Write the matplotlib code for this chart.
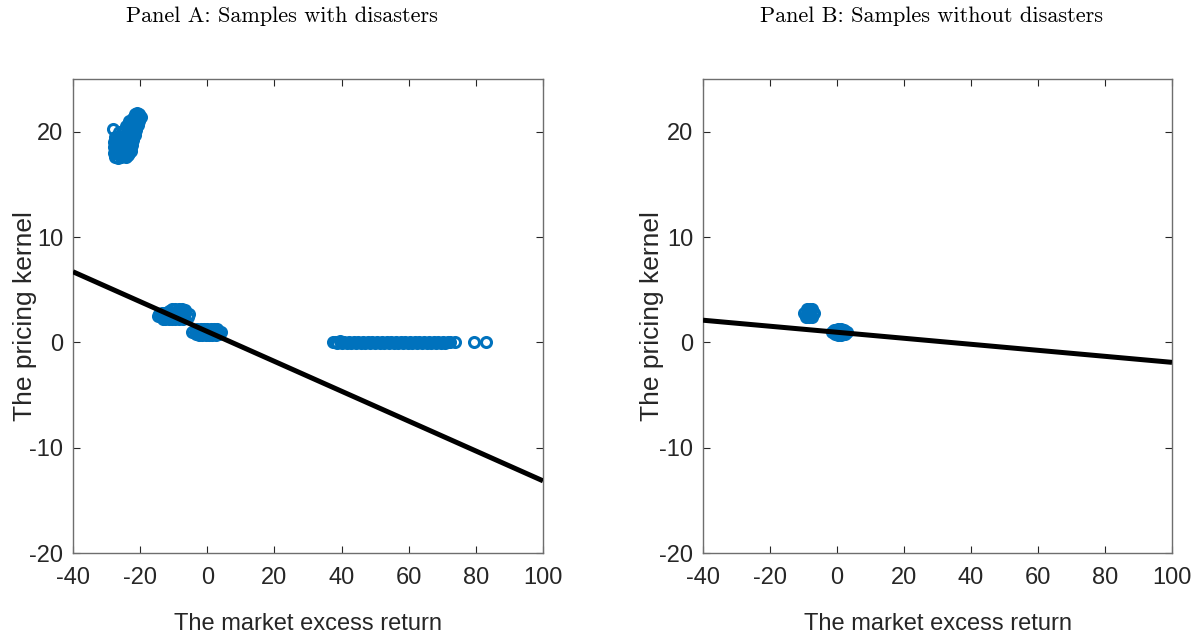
import matplotlib
matplotlib.use("Agg")
import matplotlib.pyplot as plt

# Panel A scatter clouds (market excess return, pricing kernel)
a_crash_x = [-27.4, -26.6, -25.8, -25.0, -24.2, -23.5,
             -27.8, -27.1, -26.3, -25.5, -24.7, -23.9, -23.2, -22.8,
             -27.9, -27.2, -26.4, -25.6, -24.8, -24.0, -23.3, -22.6, -22.3,
             -27.8, -27.0, -26.2, -25.4, -24.6, -23.8, -23.1, -22.4, -22.0,
             -27.4, -26.6, -25.8, -25.0, -24.2, -23.5, -22.8, -22.0, -21.6,
             -28.0, -26.3, -25.5, -24.7, -23.9, -23.2, -22.5, -21.7, -21.2,
             -24.3, -23.6, -22.9, -22.1, -21.3, -20.7,
             -23.3, -22.6, -21.9, -21.1, -20.2,
             -22.2, -21.5, -20.8, -19.8,
             -21.4, -20.9, -20.3]
a_crash_y = [17.6, 17.5, 17.6, 17.7, 17.6, 17.8,
             18.0, 18.0, 17.9, 18.0, 18.0, 18.1, 18.0, 18.2,
             18.5, 18.5, 18.5, 18.4, 18.5, 18.5, 18.6, 18.5, 18.7,
             19.0, 19.0, 19.0, 19.0, 19.0, 19.0, 19.0, 19.1, 19.2,
             19.5, 19.5, 19.5, 19.5, 19.5, 19.5, 19.5, 19.6, 19.7,
             20.3, 20.0, 20.0, 20.0, 20.0, 20.0, 20.0, 20.1, 20.2,
             20.5, 20.5, 20.5, 20.5, 20.5, 20.6,
             21.0, 21.0, 21.0, 21.0, 21.0,
             21.3, 21.4, 21.4, 21.4,
             21.7, 21.8, 21.7]

a_mid_x = [-11.3, -10.4, -9.5, -8.5, -7.6, -6.7,
           -14.3, -13.4, -12.5, -11.5, -10.5, -9.5, -8.5, -7.5, -6.5, -5.5,
           -14.7, -13.9, -13.0, -12.0, -11.0, -10.0, -9.0, -8.0, -7.0, -5.8,
           -13.3, -12.5, -11.5, -10.5, -9.5, -8.5, -7.2]
a_mid_y = [3.0, 3.2, 3.2, 3.2, 3.2, 3.1,
           2.7, 2.8, 2.8, 2.8, 2.8, 2.8, 2.8, 2.8, 2.8, 2.7,
           2.5, 2.5, 2.5, 2.5, 2.5, 2.5, 2.5, 2.5, 2.5, 2.4,
           2.2, 2.2, 2.2, 2.2, 2.2, 2.2, 2.2]

a_zero_x = [-3.0, -2.0, -1.0, 0.0, 1.0, 2.0, 3.0,
            -4.6, -3.8, -2.8, -1.8, -0.8, 0.2, 1.2, 2.2, 3.2, 4.1,
            -3.5, -2.5, -1.5, -0.5, 0.5, 1.5, 2.5, 3.4]
a_zero_y = [1.3, 1.3, 1.3, 1.3, 1.3, 1.3, 1.25,
            1.0, 1.0, 1.0, 1.0, 1.0, 1.0, 1.0, 1.0, 1.0, 1.0,
            0.75, 0.7, 0.7, 0.7, 0.7, 0.7, 0.7, 0.75]

a_boom_x = [37.4, 38.0, 38.7, 39.4, 40.1, 40.8, 41.5, 42.2, 42.9, 43.6,
            44.3, 45.0, 45.7, 46.4, 47.1, 47.8, 48.5, 49.2, 49.9, 50.6,
            51.3, 52.0, 52.7, 53.4, 54.1, 54.8, 55.5, 56.2, 56.9, 57.6,
            58.3, 59.0, 59.7, 60.4, 61.1, 61.8, 62.5, 63.2, 63.9, 64.6,
            65.3, 66.0, 66.7, 67.4, 68.1, 68.8, 69.5, 70.2, 70.9, 71.6,
            72.3, 73.8, 79.4, 83.0]
a_boom_y = [0.0, 0.05, -0.05, 0.08, -0.04, 0.06, -0.07, 0.04, -0.05, 0.07,
            -0.03, 0.05, -0.06, 0.04, -0.04, 0.06, -0.05, 0.03, -0.06, 0.05,
            -0.04, 0.06, -0.03, 0.04, -0.05, 0.03, -0.04, 0.05, -0.03, 0.04,
            -0.05, 0.03, -0.04, 0.02, -0.03, 0.04, -0.02, 0.03, -0.04, 0.02,
            -0.03, 0.02, -0.02, 0.03, -0.02, 0.02, -0.03, 0.01, -0.02, 0.02,
            0.0, 0.0, 0.0, 0.0]

# Panel B scatter clouds
b_mid_x = [-9.1, -8.2, -7.5, -9.8, -9.0, -8.0, -7.0, -9.3, -8.4, -7.5]
b_mid_y = [3.15, 3.2, 3.15, 2.8, 2.8, 2.8, 2.8, 2.45, 2.4, 2.45]
b_zero_x = [-0.8, 0.2, 1.2, 2.2, -1.4, -0.5, 0.5, 1.5, 2.5, 2.9,
            -0.7, 0.3, 1.3, 2.3]
b_zero_y = [1.2, 1.25, 1.25, 1.2, 0.95, 0.95, 0.95, 0.95, 0.95, 0.95,
            0.75, 0.7, 0.7, 0.75]

# fitted regression lines (endpoints at x = -40 and x = 100)
fit_x = [-40, 100]
fit_a = [6.7, -13.15]
fit_b = [2.1, -1.9]

titles = ["Panel A: Samples with disasters", "Panel B: Samples without disasters"]
xticks = [-40, -20, 0, 20, 40, 60, 80, 100]
yticks = [-20, -10, 0, 10, 20]

BLUE = "#0072BD"
DARK = "#262626"
sans = ["Liberation Sans", "DejaVu Sans"]

fig = plt.figure(figsize=(11.96, 6.42), dpi=100)
ax_a = fig.add_axes([73 / 1196, 1 - 553 / 642, 470 / 1196, 474 / 642])
ax_b = fig.add_axes([703 / 1196, 1 - 553 / 642, 469 / 1196, 474 / 642])

panels = [
    (ax_a, [(a_crash_x, a_crash_y), (a_mid_x, a_mid_y), (a_zero_x, a_zero_y), (a_boom_x, a_boom_y)], fit_a),
    (ax_b, [(b_mid_x, b_mid_y), (b_zero_x, b_zero_y)], fit_b),
]

for ax, clouds, fit in panels:
    for xs, ys in clouds:
        ax.plot(xs, ys, linestyle="none", marker="o", markersize=7.2,
                markerfacecolor="none", markeredgecolor=BLUE, markeredgewidth=2.2, zorder=2)
    ax.plot(fit_x, fit, color="black", linewidth=3.6, zorder=3, solid_capstyle="butt")
    ax.set_xlim(-40, 100)
    ax.set_ylim(-20, 25)
    ax.set_xticks(xticks)
    ax.set_yticks(yticks)
    ax.set_xticklabels([str(t) for t in xticks], fontfamily=sans, fontsize=17)
    ax.set_yticklabels([str(t) for t in yticks], fontfamily=sans, fontsize=17)
    ax.tick_params(direction="in", length=5, width=0.8, top=True, right=True,
                   color=DARK, labelcolor=DARK)
    ax.tick_params(axis="x", pad=10)
    ax.tick_params(axis="y", pad=7)
    for sp in ax.spines.values():
        sp.set_color("#6e6e6e")
        sp.set_linewidth(1.0)
    ax.set_xlabel("The market excess return", fontfamily=sans, fontsize=17, color=DARK)
    ax.set_ylabel("The pricing kernel", fontfamily=sans, fontsize=19, color=DARK)
    ax.xaxis.label.set_va("center")
    ax.yaxis.label.set_va("center")
    ax.xaxis.set_label_coords(0.5, -0.15)

ax_a.yaxis.set_label_coords(-0.102, 0.5)
ax_b.yaxis.set_label_coords(-0.109, 0.5)

fig.text(282 / 1196, 1 - 16 / 642, titles[0], family="cmr10", fontsize=16, ha="center", va="center")
fig.text(931 / 1196, 1 - 16 / 642, titles[1], family="cmr10", fontsize=16, ha="center", va="center")

fig.savefig("out.png", dpi=100)
